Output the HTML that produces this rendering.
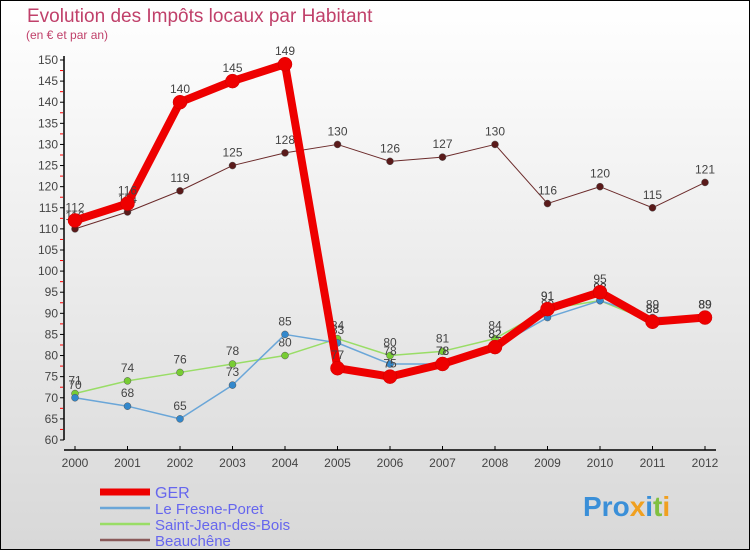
<!DOCTYPE html>
<html><head><meta charset="utf-8"><style>
body{margin:0}
#c{width:750px;height:550px;position:relative;box-sizing:border-box;border:1px solid #000;background:linear-gradient(#fff,#d8d8d8);font-family:"Liberation Sans",sans-serif;overflow:hidden}
</style></head><body>
<div id="c">
<svg id="s" width="750" height="550" style="position:absolute;left:-1px;top:-1px">
<text x="27" y="22" font-size="19" fill="#c0406a">Evolution des Impôts locaux par Habitant</text>
<text x="26" y="39" font-size="12" fill="#c0406a">(en € et par an)</text>
<g id="axes"></g><g id="series"></g><g id="legend"></g>
<text x="583" y="516" font-size="28" font-weight="bold" fill="#3a8fd8">Pro<tspan fill="#f0a020">x</tspan><tspan fill="#3a8fd8">i</tspan><tspan fill="#80c040">t</tspan><tspan fill="#f0a020">i</tspan></text>
</svg>
</div>
<script>
const years=[2000,2001,2002,2003,2004,2005,2006,2007,2008,2009,2010,2011,2012];
const seriesNames=["GER","Le Fresne-Poret","Saint-Jean-des-Bois","Beauchêne"];
const gerVals=[112,116,140,145,149,77,75,78,82,91,95,88,89];
const fresneVals=[70,68,65,73,85,83,78,78,82,89,93,89,89];
const stJeanVals=[71,74,76,78,80,84,80,81,84,91,93,88,89];
const beauVals=[110,114,119,125,128,130,126,127,130,116,120,115,121];
const yTicks=[60,65,70,75,80,85,90,95,100,105,110,115,120,125,130,135,140,145,150];
const NS="http://www.w3.org/2000/svg";
const x=i=>75+i*52.5, y=v=>60+(150-v)*4.222;
function mk(t,a,p){const e=document.createElementNS(NS,t);for(const k in a)e.setAttribute(k,a[k]);p.appendChild(e);return e;}
const ax=document.getElementById('axes');
let l=mk('line',{x1:64,y1:56,x2:64,y2:440,stroke:'#000','stroke-width':1.5},ax);

l=mk('line',{x1:64,y1:450,x2:716,y2:450,stroke:'#000','stroke-width':1.5},ax);

yTicks.forEach((v,i)=>{mk('line',{x1:60,y1:y(v),x2:64,y2:y(v),stroke:'#000'},ax);
 if(i<yTicks.length-1)mk('line',{x1:60,y1:y(v+2.5),x2:63,y2:y(v+2.5),stroke:'#f00'},ax);
 const t=mk('text',{x:58,y:y(v)+4,'font-size':12,'text-anchor':'end',fill:'#444'},ax);t.textContent=v;
 });
years.forEach((yr,i)=>{mk('line',{x1:x(i),y1:446,x2:x(i),y2:450,stroke:'#000'},ax);
 const t=mk('text',{x:x(i),y:467,'font-size':12,'text-anchor':'middle',fill:'#444'},ax);t.textContent=yr;
 });
const sg=document.getElementById('series');
const defs=[[beauVals,'#6b2a2a',1,'#5a1a1a',3.5,'series-beauchene'],[stJeanVals,'#99dd66',1.5,'#77cc33',3.5,'series-saint-jean'],[fresneVals,'#6aa6d8',1.5,'#3388cc',3.5,'series-fresne-poret'],[gerVals,'#ee0000',8,'#ee0000',7,'series-ger']];
defs.forEach(([vals,col,w,pc,r,name])=>{
 const g=mk('g',{},sg);
 mk('polyline',{points:vals.map((v,i)=>x(i)+','+y(v)).join(' '),fill:'none',stroke:col,'stroke-width':w,'stroke-linejoin':'round'},g);
 vals.forEach((v,i)=>{const c=mk('circle',{cx:x(i),cy:y(v),r:r,fill:pc,stroke:name=='series-ger'?'#cc0000':'#555','stroke-width':0.5},g);
  
  const t=mk('text',{x:x(i),y:y(v)-9,'font-size':12,'text-anchor':'middle',fill:'#444'},g);t.textContent=v;
  });
});
const lg=document.getElementById('legend');
const lcols=['#ee0000','#6aa6d8','#99dd66','#8a5a5a'],lw=[7,2.5,2.5,2.5],ly=[492,508,524,540];
seriesNames.forEach((n,i)=>{const g=mk('g',{},lg);
 mk('line',{x1:100,y1:ly[i],x2:150,y2:ly[i],stroke:lcols[i],'stroke-width':lw[i]},g);
 const t=mk('text',{x:155,y:ly[i]+6,'font-size':i==0?16:15,fill:'#6666ee'},g);t.textContent=n;});
</script>
</body></html>
